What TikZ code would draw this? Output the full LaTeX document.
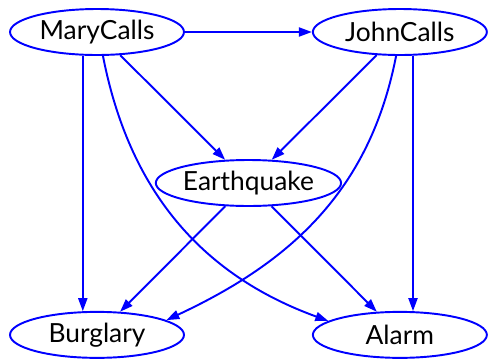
\documentclass[tikz,border=0pt]{standalone}
\usepackage{fontspec}
\setmainfont{Lato}
\usetikzlibrary{arrows.meta,calc,positioning,shapes.geometric}
\definecolor{netblue}{RGB}{0,0,255}

\begin{document}
\begin{tikzpicture}[
    x=0.02cm, y=0.02cm,
    var/.style={ellipse, draw=netblue, line width=1.1pt, minimum width=3.48cm, minimum height=0.92cm, inner sep=0pt, font=\fontsize{15}{17}\selectfont},
    arr/.style={-{Triangle[length=2.6mm, width=1.8mm]}, line width=1.1pt, color=netblue}
  ]
  \useasboundingbox (0,0) rectangle (488,360);

  \node[var] (mary) at (97,328) {MaryCalls};
  \node[var, right=2.54cm of mary] (john) {JohnCalls};
  \node[var] (quake) at ($(mary)!0.5!(john)+(0,-151)$) {Earthquake};
  \node[var, below=5.1cm of mary] (burglary) {Burglary};
  \node[var, below=5.1cm of john] (alarm) {Alarm};

  \draw[arr] (mary) -- (john);
  \draw[arr] (mary) -- (quake);
  \draw[arr] (mary.-121) -- (burglary.121);
  \draw[arr] (mary.-76) to[out=-79, in=160] (alarm.169);
  \draw[arr] (john) -- (quake);
  \draw[arr] (john.-61) -- (alarm.61);
  \draw[arr] (john.-99) to[out=-101, in=25] (burglary.12);
  \draw[arr] (quake) -- (burglary);
  \draw[arr] (quake) -- (alarm);
\end{tikzpicture}
\end{document}
